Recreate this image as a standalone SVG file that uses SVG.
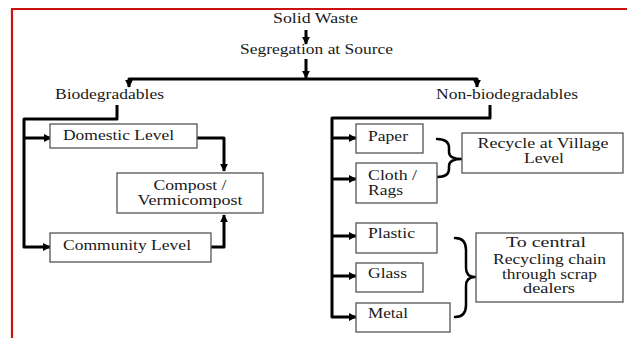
<svg xmlns="http://www.w3.org/2000/svg" width="627" height="338" viewBox="0 0 627 338">
<style>
text{font-family:"Liberation Serif","DejaVu Serif",serif;font-size:14px;fill:#1a1a1a;}
.c{text-anchor:middle;}
.box{fill:#fff;stroke:#555;stroke-width:1.3;}
.ln{fill:none;stroke:#000;stroke-width:3;stroke-linejoin:round;}
.br{fill:none;stroke:#000;stroke-width:2.5;stroke-linecap:round;}
</style>
<defs>
<marker id="ah" viewBox="0 0 10 10" refX="9" refY="5" markerWidth="8" markerHeight="8" markerUnits="userSpaceOnUse" orient="auto-start-reverse">
<path d="M0 0 L10 5 L0 10 Z" fill="#000"/>
</marker>
</defs>
<rect width="627" height="338" fill="#fff"/>
<path d="M12 338 V9 H627" fill="none" stroke="#cc1111" stroke-width="2.2"/>

<g id="connectors">
<path class="ln" d="M306 30 V44" marker-end="url(#ah)"/>
<path class="ln" d="M306 59 V78" marker-end="url(#ah)"/>
<path class="ln" d="M129 87 V79 H477 V87" marker-start="url(#ah)" marker-end="url(#ah)"/>
<path class="ln" d="M117 105 V119 H24 V247 H50" marker-end="url(#ah)"/>
<path class="ln" d="M24 138 H51" marker-end="url(#ah)"/>
<path class="ln" d="M183 138 H224 V171" marker-end="url(#ah)"/>
<path class="ln" d="M197 247 H224 V215" marker-end="url(#ah)"/>
<path class="ln" d="M490 105 V118 H332 V317 H356" marker-end="url(#ah)"/>
<path class="ln" d="M332 138 H356" marker-end="url(#ah)"/>
<path class="ln" d="M332 179 H356" marker-end="url(#ah)"/>
<path class="ln" d="M332 236 H356" marker-end="url(#ah)"/>
<path class="ln" d="M332 276 H356" marker-end="url(#ah)"/>
<path class="br" d="M437 139 Q449 139 449 148 V152 Q449 159 462 159 M449 166 Q449 159 462 159 M449 166 V169 Q449 177 437 177"/>
<path class="br" d="M455 238 Q466 238 466 250 V268 Q466 277 475 277 M466 286 Q466 277 475 277 M466 286 V305 Q466 317 455 317"/>
</g>

<g id="solid-waste"><text class="c" x="315.5" y="23" textLength="85" lengthAdjust="spacingAndGlyphs">Solid Waste</text></g>
<g id="segregation"><text class="c" x="316.5" y="54" textLength="153" lengthAdjust="spacingAndGlyphs">Segregation at Source</text></g>
<g id="biodegradables"><text x="55" y="99" textLength="109" lengthAdjust="spacingAndGlyphs">Biodegradables</text></g>
<g id="non-biodegradables"><text x="436" y="99" textLength="142" lengthAdjust="spacingAndGlyphs">Non-biodegradables</text></g>

<g id="domestic"><rect class="box" x="50" y="124" width="147" height="24"/><text x="63" y="140" textLength="111" lengthAdjust="spacingAndGlyphs">Domestic Level</text></g>
<g id="compost"><rect class="box" x="117" y="173" width="146" height="40"/><text class="c" x="190" y="190" textLength="73" lengthAdjust="spacingAndGlyphs">Compost /</text><text class="c" x="190" y="205" textLength="105" lengthAdjust="spacingAndGlyphs">Vermicompost</text></g>
<g id="community"><rect class="box" x="50" y="233" width="161" height="29"/><text x="63" y="250" textLength="128" lengthAdjust="spacingAndGlyphs">Community Level</text></g>

<g id="paper"><rect class="box" x="356" y="124" width="67" height="29"/><text x="368" y="141" textLength="40" lengthAdjust="spacingAndGlyphs">Paper</text></g>
<g id="cloth"><rect class="box" x="356" y="163" width="81" height="40"/><text x="368" y="180" textLength="49" lengthAdjust="spacingAndGlyphs">Cloth /</text><text x="368" y="195" textLength="35" lengthAdjust="spacingAndGlyphs">Rags</text></g>
<g id="recycle-village"><rect class="box" x="462" y="133" width="161" height="40"/><text class="c" x="543" y="148" textLength="131" lengthAdjust="spacingAndGlyphs">Recycle at Village</text><text class="c" x="544" y="163" textLength="40" lengthAdjust="spacingAndGlyphs">Level</text></g>

<g id="plastic"><rect class="box" x="356" y="223" width="81" height="30"/><text x="368" y="238" textLength="47" lengthAdjust="spacingAndGlyphs">Plastic</text></g>
<g id="glass"><rect class="box" x="356" y="263" width="67" height="29"/><text x="368" y="278" textLength="39" lengthAdjust="spacingAndGlyphs">Glass</text></g>
<g id="metal"><rect class="box" x="356" y="303" width="94" height="29"/><text x="368" y="318" textLength="40" lengthAdjust="spacingAndGlyphs">Metal</text></g>
<g id="central-recycling"><rect class="box" x="476" y="233" width="147" height="69"/><text class="c" x="546" y="247" textLength="80" lengthAdjust="spacingAndGlyphs">To central</text><text class="c" x="549.5" y="264" textLength="113" lengthAdjust="spacingAndGlyphs">Recycling chain</text><text class="c" x="549.5" y="279" textLength="95" lengthAdjust="spacingAndGlyphs">through scrap</text><text class="c" x="549" y="293" textLength="52" lengthAdjust="spacingAndGlyphs">dealers</text></g>
</svg>
